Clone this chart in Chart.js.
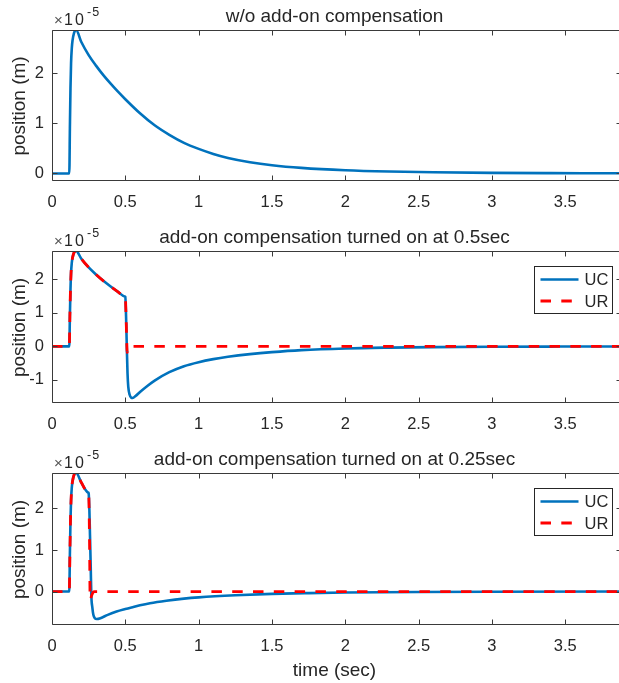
<!DOCTYPE html>
<html>
<head>
<meta charset="utf-8">
<script src="https://cdn.jsdelivr.net/npm/chart.js@4"></script>
<style>
  html, body { margin: 0; padding: 0; background: #fff; }
  #wrap { position: relative; width: 619px; height: 683px; overflow: hidden; }
  #wrap canvas { position: absolute; left: 0; top: 0; }
</style>
</head>
<body>
<div id="wrap">
  <canvas id="c1" width="625" height="683"></canvas>
  <canvas id="c2" width="625" height="683"></canvas>
  <canvas id="c3" width="625" height="683"></canvas>
</div>
<script>
// positions are in units of 1e-5 m, time in seconds
const xTicks = [0, 0.5, 1, 1.5, 2, 2.5, 3, 3.5];
const yTicks1 = [0, 1, 2];
const yTicks2 = [-1, 0, 1, 2];
const yTicks3 = [0, 1, 2];

// no compensation
const t1 = [0, 0.118, 0.122, 0.126, 0.13, 0.135, 0.14, 0.15, 0.164, 0.2, 0.25, 0.3, 0.35, 0.4, 0.45, 0.5, 0.6, 0.7, 0.8, 0.9, 1.0, 1.1, 1.2, 1.35, 1.5, 1.7, 2.0, 2.3, 2.6, 3.0, 3.4, 3.9];
const uc1 = [0, 0, 0.9, 1.7, 2.2, 2.5, 2.65, 2.8, 2.86, 2.62, 2.36, 2.15, 1.96, 1.79, 1.63, 1.48, 1.2, 0.96, 0.77, 0.61, 0.49, 0.39, 0.31, 0.225, 0.165, 0.112, 0.064, 0.038, 0.023, 0.012, 0.007, 0.004];

// compensation on at 0.5 s
const t2 = [0, 0.118, 0.122, 0.126, 0.13, 0.135, 0.14, 0.15, 0.164, 0.2, 0.25, 0.3, 0.35, 0.4, 0.45, 0.496, 0.5, 0.505, 0.51, 0.515, 0.52, 0.53, 0.54, 0.55, 0.57, 0.6, 0.65, 0.7, 0.8, 0.9, 1.0, 1.1, 1.2, 1.35, 1.5, 1.7, 2.0, 2.3, 2.6, 3.0, 3.4, 3.9];
const uc2 = [0, 0, 0.9, 1.7, 2.2, 2.5, 2.65, 2.8, 2.86, 2.62, 2.36, 2.15, 1.96, 1.79, 1.63, 1.492, 1.48, 0.9, 0.0, -0.8, -1.2, -1.45, -1.53, -1.54, -1.48, -1.36, -1.18, -1.02, -0.77, -0.59, -0.47, -0.38, -0.31, -0.23, -0.17, -0.11, -0.06, -0.035, -0.02, -0.01, -0.005, -0.002];
const t2r = [0, 0.118, 0.122, 0.126, 0.13, 0.135, 0.14, 0.15, 0.164, 0.2, 0.25, 0.3, 0.35, 0.4, 0.45, 0.496, 0.5, 0.505, 0.513, 0.52, 3.9];
const ur2 = [0, 0, 0.9, 1.7, 2.2, 2.5, 2.65, 2.8, 2.86, 2.62, 2.36, 2.15, 1.96, 1.79, 1.63, 1.492, 1.48, 0.9, -0.18, 0, 0];

// compensation on at 0.25 s
const t3 = [0, 0.118, 0.122, 0.126, 0.13, 0.135, 0.14, 0.15, 0.164, 0.2, 0.246, 0.25, 0.255, 0.259, 0.264, 0.268, 0.275, 0.282, 0.292, 0.305, 0.33, 0.38, 0.44, 0.5, 0.555, 0.6, 0.668, 0.78, 0.9, 1.0, 1.25, 1.5, 1.75, 2.0, 2.5, 3.0, 3.9];
const uc3 = [0, 0, 0.9, 1.7, 2.2, 2.5, 2.65, 2.8, 2.86, 2.62, 2.38, 2.36, 1.95, 1.36, 0.6, -0.08, -0.38, -0.56, -0.64, -0.66, -0.64, -0.56, -0.48, -0.42, -0.37, -0.33, -0.28, -0.22, -0.17, -0.14, -0.09, -0.056, -0.037, -0.024, -0.01, -0.004, 0];
const t3r = [0, 0.118, 0.122, 0.126, 0.13, 0.135, 0.14, 0.15, 0.164, 0.2, 0.246, 0.25, 0.256, 0.26, 0.27, 0.28, 0.29, 3.9];
const ur3 = [0, 0, 0.9, 1.7, 2.2, 2.5, 2.65, 2.8, 2.86, 2.62, 2.38, 2.36, 1.2, -0.2, -0.1, -0.02, 0, 0];

const BLUE = '#0072BD';
const RED = '#FF0000';
const INK = '#262626';
const AXIS = '#3a3a3a';
const FONT = '"Liberation Sans", Arial, sans-serif';
const X_MAX = 3.88;
const TICK_LEN = 5;
const Y_AXIS_W = 45;   // room for y tick labels, left of the plot box
const X_AXIS_H = 36;   // room for x tick labels, under the plot box

function pts(xs, ys) {
    return xs.map((x, i) => ({ x: x, y: ys[i] }));
}

// MATLAB-like box, inward ticks, title, labels, exponent and legend
const matlabAxes = {
    id: 'matlabAxes',
    afterDatasetsDraw(chart, args, opts) {
        const ctx = chart.ctx;
        const a = chart.chartArea;
        const xs = chart.scales.x, ys = chart.scales.y;
        const L = Math.round(a.left) + 0.5, R = Math.round(a.right) + 0.5;
        const T = Math.round(a.top) + 0.5, B = Math.round(a.bottom) + 0.5;

        ctx.save();
        ctx.strokeStyle = AXIS;
        ctx.lineWidth = 1;
        ctx.beginPath();
        ctx.rect(L, T, R - L, B - T);
        xs.ticks.forEach(t => {
            const px = Math.round(xs.getPixelForValue(t.value)) + 0.5;
            ctx.moveTo(px, B); ctx.lineTo(px, B - TICK_LEN);
            ctx.moveTo(px, T); ctx.lineTo(px, T + TICK_LEN);
        });
        ys.ticks.forEach(t => {
            const py = Math.round(ys.getPixelForValue(t.value)) + 0.5;
            ctx.moveTo(L, py); ctx.lineTo(L + TICK_LEN, py);
            ctx.moveTo(R, py); ctx.lineTo(R - TICK_LEN, py);
        });
        ctx.stroke();

        ctx.fillStyle = INK;
        const cx = (a.left + a.right) / 2 - 2;

        // title
        ctx.font = '19px ' + FONT;
        ctx.textAlign = 'center';
        ctx.textBaseline = 'alphabetic';
        ctx.fillText(opts.title, cx, a.top - 8);

        // y label
        ctx.save();
        ctx.translate(25, (a.top + a.bottom) / 2 + 1);
        ctx.rotate(-Math.PI / 2);
        ctx.fillText('position (m)', 0, 0);
        ctx.restore();

        // x label
        if (opts.xlabel) {
            ctx.fillText(opts.xlabel, cx, 676);
        }

        // exponent
        ctx.textAlign = 'left';
        ctx.fillStyle = '#555';
        ctx.font = '15px ' + FONT;
        ctx.fillText('\u00d7', 54, a.top - 5);
        ctx.fillStyle = INK;
        ctx.font = '16px ' + FONT;
        ctx.letterSpacing = '2px';
        ctx.fillText('10', 64, a.top - 5);
        ctx.font = '12.5px ' + FONT;
        ctx.letterSpacing = '1px';
        ctx.fillText('-5', 87, a.top - 14);
        ctx.letterSpacing = '0px';

        // legend
        if (opts.legend) {
            const bx = 534.5, by = a.top + 15.5, bw = 78, bh = 47;
            ctx.fillStyle = '#fff';
            ctx.fillRect(bx, by, bw, bh);
            ctx.strokeStyle = INK;
            ctx.lineWidth = 1;
            ctx.strokeRect(bx, by, bw, bh);
            ctx.font = '16.5px ' + FONT;
            ctx.textBaseline = 'middle';
            chart.data.datasets.forEach((ds, i) => {
                const ly = by + 13 + i * 21.5;
                ctx.strokeStyle = ds.borderColor;
                ctx.lineWidth = ds.borderWidth;
                ctx.setLineDash(ds.borderDash || []);
                ctx.beginPath();
                ctx.moveTo(bx + 6, ly);
                ctx.lineTo(bx + 44, ly);
                ctx.stroke();
                ctx.setLineDash([]);
                ctx.fillStyle = INK;
                ctx.fillText(ds.label, bx + 50, ly + 1);
            });
        }
        ctx.restore();
    }
};

function makePanel(id, top, bottom, yMin, yMax, yTicks, datasets, opts) {
    const tickFont = { family: FONT, size: 16.5 };
    return new Chart(document.getElementById(id), {
        type: 'line',
        data: { datasets: datasets },
        options: {
            responsive: false,
            animation: false,
            events: [],
            layout: { padding: { left: 52 - Y_AXIS_W, right: 4, top: top, bottom: 683 - bottom - X_AXIS_H } },
            plugins: {
                legend: { display: false },
                title: { display: false },
                tooltip: { enabled: false },
                matlabAxes: opts
            },
            elements: {
                point: { radius: 0 },
                line: { cubicInterpolationMode: 'monotone', borderJoinStyle: 'round' }
            },
            scales: {
                x: {
                    type: 'linear',
                    min: 0,
                    max: X_MAX,
                    grid: { display: false, drawTicks: false },
                    border: { display: false },
                    afterBuildTicks: s => { s.ticks = xTicks.map(v => ({ value: v })); },
                    afterFit: s => { s.height = X_AXIS_H; },
                    ticks: {
                        font: tickFont, color: INK, padding: 13,
                        autoSkip: false, maxRotation: 0,
                        callback: v => String(v)
                    }
                },
                y: {
                    type: 'linear',
                    min: yMin,
                    max: yMax,
                    grid: { display: false, drawTicks: false },
                    border: { display: false },
                    afterBuildTicks: s => { s.ticks = yTicks.map(v => ({ value: v })); },
                    afterFit: s => { s.width = Y_AXIS_W; },
                    ticks: {
                        font: tickFont, color: INK, padding: 8,
                        callback: v => String(v)
                    }
                }
            }
        },
        plugins: [matlabAxes]
    });
}

function ucSet(xs, ys) {
    return { label: 'UC', data: pts(xs, ys), borderColor: BLUE, borderWidth: 2.6, order: 2 };
}
function urSet(xs, ys) {
    return { label: 'UR', data: pts(xs, ys), borderColor: RED, borderWidth: 2.8, borderDash: [10.5, 10.3], order: 1 };
}

makePanel('c1', 30, 180, -0.13, 2.86, yTicks1, [ucSet(t1, uc1)],
    { title: 'w/o add-on compensation', legend: false });
makePanel('c2', 251, 402, -1.66, 2.85, yTicks2, [ucSet(t2, uc2), urSet(t2r, ur2)],
    { title: 'add-on compensation turned on at 0.5sec', legend: true });
makePanel('c3', 473, 624, -0.78, 2.85, yTicks3, [ucSet(t3, uc3), urSet(t3r, ur3)],
    { title: 'add-on compensation turned on at 0.25sec', legend: true, xlabel: 'time (sec)' });
</script>
</body>
</html>
